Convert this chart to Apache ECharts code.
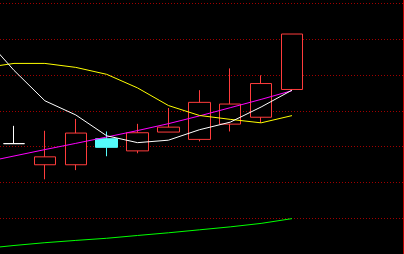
<!DOCTYPE html>
<html>
<head>
<meta charset="utf-8">
<style>
html,body{margin:0;padding:0;background:#000;}
#c{width:404px;height:254px;}
</style>
<script src="https://cdn.jsdelivr.net/npm/echarts@6/dist/echarts.min.js"></script>
</head>
<body>
<div id="c"></div>
<script>
// Day index: 0 is the (off-screen) previous day, 1..10 are the visible candles
const days   = [0, 1, 2, 3, 4, 5, 6, 7, 8, 9, 10];
const opens  = [null, 30.86, 24.96, 24.96, 32.24, 28.84, 34.10, 32.05, 36.32, 38.25, 46.01];
const closes = [null, 30.86, 27.17, 33.82, 29.83, 33.91, 35.48, 42.41, 41.94, 47.67, 61.52];
const lows   = [null, 30.86, 20.89, 23.46, 27.34, 28.17, 34.10, 31.50, 34.27, 36.68, 46.01];
const highs  = [null, 35.84, 34.46, 37.78, 34.27, 36.40, 40.83, 45.82, 51.91, 49.97, 61.52];
const ma5    = [61.05, 51.36, 42.85, 38.89, 33.07, 31.14, 31.83, 34.74, 36.87, 41.11, 45.82];
const ma10   = [52.05, 53.30, 53.30, 52.19, 50.25, 46.45, 41.52, 38.75, 37.65, 36.68, 38.70];
const trend  = [25.60, 27.40, 29.20, 30.94, 32.71, 34.52, 36.45, 38.61, 40.91, 43.24, 45.68];
const lower  = [1.50, 2.38, 3.16, 3.80, 4.40, 5.18, 5.93, 6.76, 7.59, 8.56, 9.89];
// visible window of the day axis
const dayMin = 0.547, dayMax = 13.626;

const UP = '#ff3c3c', DOWN = '#54fcfc';
const kData = [];
days.forEach((d, i) => {
  if (opens[i] == null) return;
  const v = [d, opens[i], closes[i], lows[i], highs[i]];
  if (opens[i] === closes[i]) {
    kData.push({value: v, itemStyle: {color: '#fff', color0: '#fff', borderColor: '#fff', borderColor0: '#fff', borderColorDoji: '#fff'}});
  } else {
    kData.push(v);
  }
});
const pts = a => days.map((d, i) => [d, a[i]]);

const chart = echarts.init(document.getElementById('c'), null, {renderer: 'canvas'});
const lineSeries = (arr, color) => ({
  type: 'line', data: pts(arr), showSymbol: false, symbol: 'none',
  lineStyle: {color: color, width: 1}, z: 3, clip: true
});
chart.setOption({
  backgroundColor: '#000',
  animation: false,
  grid: {left: 0, right: 0, top: 3.7, height: 252.7, containLabel: false},
  xAxis: {
    type: 'value', min: dayMin, max: dayMax,
    axisLine: {show: false}, axisTick: {show: false}, axisLabel: {show: false}, splitLine: {show: false}
  },
  yAxis: {
    type: 'value', min: 0, max: 70, interval: 10,
    axisLine: {show: false}, axisTick: {show: false}, axisLabel: {show: false},
    splitLine: {show: true, lineStyle: {color: '#a00000', width: 1, type: [1, 2]}}
  },
  graphic: [{
    type: 'line', shape: {x1: 403.5, y1: 0, x2: 403.5, y2: 254},
    style: {stroke: '#c00000', lineWidth: 1}, silent: true
  }],
  series: [
    {
      type: 'candlestick', data: kData, barWidth: 22,
      encode: {x: 0, y: [1, 2, 3, 4]},
      itemStyle: {color: '#000', color0: DOWN, borderColor: UP, borderColor0: DOWN, borderColorDoji: '#fff', borderWidth: 1}
    },
    lineSeries(trend, '#ff00ff'),
    lineSeries(ma10, '#ffff00'),
    lineSeries(ma5, '#ffffff'),
    lineSeries(lower, '#00ff00')
  ]
});
</script>
</body>
</html>
